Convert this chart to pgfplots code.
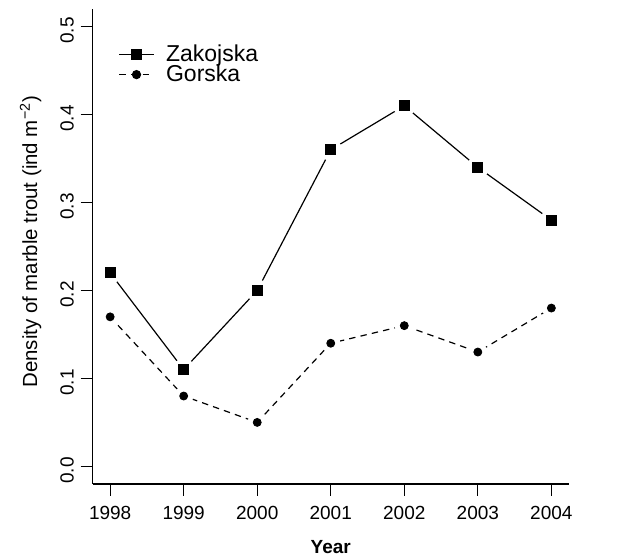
\documentclass[border=0pt]{standalone}
\usepackage{fontspec}
\setmainfont{Liberation Sans}
\usepackage{pgfplots}
\pgfplotsset{compat=1.18}
\begin{document}
\fontsize{9.5bp}{11bp}\selectfont
\begin{tikzpicture}
\begin{axis}[
  scale only axis, width=238.25bp, height=237.5bp,
  xmin=1997.76, xmax=2004.24, ymin=-0.02, ymax=0.52,
  axis x line*=bottom, axis y line*=left,
  axis line style={-, line width=0.6bp, black},
  xtick={1998,1999,2000,2001,2002,2003,2004},
  ytick={0,0.1,0.2,0.3,0.4,0.5},
  /pgf/number format/assume math mode=true,
  x tick label style={/pgf/number format/1000 sep={}, yshift=-2bp},
  y tick label style={rotate=90, anchor=south, xshift=-2bp,
     /pgf/number format/fixed, /pgf/number format/fixed zerofill,
     /pgf/number format/precision=1},
  tick align=outside, major tick length=6bp,
  tick style={line width=0.6bp, black},
  xlabel={\bfseries Year},
  xlabel style={at={(axis description cs:0.5,0)}, anchor=center, yshift=-31.5bp},
  ylabel={Density of marble trout (ind m\textsuperscript{−2})},
  ylabel style={at={(axis description cs:-0.13,0.51)}, anchor=center,
     font=\fontsize{10.2bp}{12bp}\selectfont},
  legend style={at={(0,1)}, anchor=north west, xshift=13bp, yshift=-15.5bp,
     draw=none, fill=none, inner sep=0pt, row sep=-3.5bp, column sep=4bp,
     font=\fontsize{11.5bp}{12bp}\selectfont},
  legend cell align=left,
]
\addplot[black, line width=0.6bp, mark=square*, mark size=2.5bp] coordinates {
 (1998,0.22) (1999,0.11) (2000,0.20) (2001,0.36) (2002,0.41) (2003,0.34) (2004,0.28)};
\addlegendentry{Zakojska}
\addplot[black, line width=0.6bp, dash pattern=on 3.2bp off 2.6bp, mark=*, mark size=2bp, mark options={solid}] coordinates {
 (1998,0.17) (1999,0.08) (2000,0.05) (2001,0.14) (2002,0.16) (2003,0.13) (2004,0.18)};
\addlegendentry{Gorska}
% white halos to create the gaps of R type="b"
\addplot[forget plot, only marks, white, mark=*, mark size=5.4bp, mark options={fill=white, draw=white}] coordinates {
 (1998,0.22) (1999,0.11) (2000,0.20) (2001,0.36) (2002,0.41) (2003,0.34) (2004,0.28)};
\addplot[forget plot, only marks, white, mark=*, mark size=4.6bp, mark options={fill=white, draw=white}] coordinates {
 (1998,0.17) (1999,0.08) (2000,0.05) (2001,0.14) (2002,0.16) (2003,0.13) (2004,0.18)};
\addplot[forget plot, only marks, black, mark=square*, mark size=2.5bp] coordinates {
 (1998,0.22) (1999,0.11) (2000,0.20) (2001,0.36) (2002,0.41) (2003,0.34) (2004,0.28)};
\addplot[forget plot, only marks, black, mark=*, mark size=2bp] coordinates {
 (1998,0.17) (1999,0.08) (2000,0.05) (2001,0.14) (2002,0.16) (2003,0.13) (2004,0.18)};
\end{axis}
\pgfresetboundingbox
\path[use as bounding box] ([xshift=-46.25bp,yshift=-37bp]current axis.south west) rectangle ([xshift=30.5bp,yshift=4.5bp]current axis.north east);
\end{tikzpicture}
\end{document}
